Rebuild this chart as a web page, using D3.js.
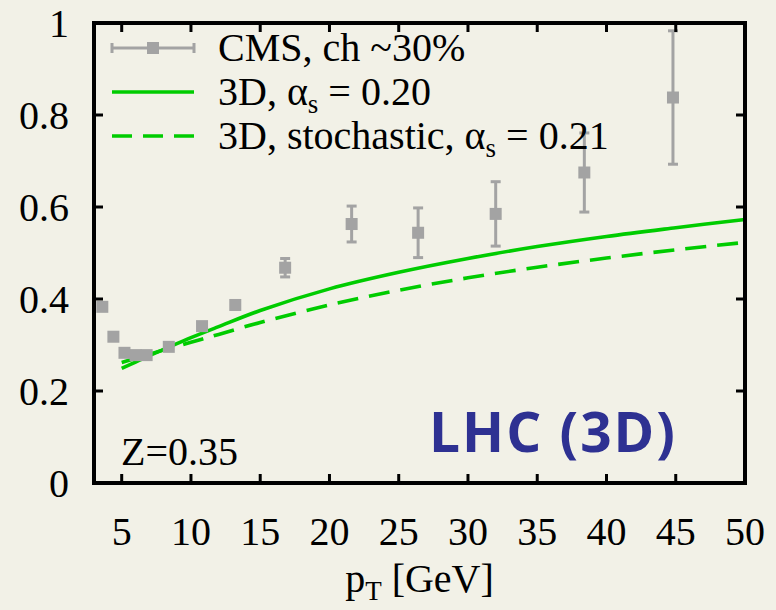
<!DOCTYPE html>
<html>
<head>
<meta charset="utf-8">
<script src="https://cdn.jsdelivr.net/npm/d3@7"></script>
<style>
  html, body { margin: 0; padding: 0; background: #f2f1e7; }
  svg { display: block; }
</style>
</head>
<body>
<svg id="chart" width="776" height="610"></svg>
<script>
// CMS charged-hadron RAA, 30% centrality
const cmsPt   = [3.6, 4.4, 5.2, 6.0, 6.8, 8.4, 10.8, 13.2, 16.8, 21.6, 26.4, 32.0, 38.4, 44.8];
const cmsRaa  = [0.383, 0.318, 0.283, 0.278, 0.278, 0.296, 0.341, 0.387, 0.468, 0.563, 0.544, 0.585, 0.675, 0.838];
const cmsErr  = [0.005, 0.005, 0.005, 0.005, 0.005, 0.005, 0.006, 0.010, 0.020, 0.039, 0.054, 0.070, 0.086, 0.145];

// 3D model curves
const modelPt         = [5, 6, 7, 8, 10, 12, 15, 20, 25, 30, 35, 40, 45, 50];
const modelSolid      = [0.249, 0.263, 0.277, 0.290, 0.316, 0.340, 0.375, 0.422, 0.458, 0.488, 0.514, 0.536, 0.555, 0.573];
const modelStochastic = [0.262, 0.271, 0.280, 0.289, 0.306, 0.323, 0.349, 0.387, 0.419, 0.446, 0.469, 0.489, 0.507, 0.523];

const xTicks = [5, 10, 15, 20, 25, 30, 35, 40, 45, 50];
const yTicks = [0, 0.2, 0.4, 0.6, 0.8, 1];

const margin = { left: 94, right: 31, top: 23, bottom: 127 };
const W = 776, H = 610;
const svg = d3.select("#chart");

const x = d3.scaleLinear().domain([3, 50]).range([margin.left, W - margin.right]);
const y = d3.scaleLinear().domain([0, 1]).range([H - margin.bottom, margin.top]);

const serif = "'Liberation Serif', 'Times New Roman', serif";
const fs = 40;
const green = "#00cc00";
const grey = "#a3a3a3";

// model curves
const line = d3.line().x(d => x(d[0])).y(d => y(d[1])).curve(d3.curveCatmullRom);
svg.append("path")
  .attr("d", line(modelPt.map((p, i) => [p, modelSolid[i]])))
  .attr("fill", "none").attr("stroke", green).attr("stroke-width", 3.6);
svg.append("path")
  .attr("d", line(modelPt.map((p, i) => [p, modelStochastic[i]])))
  .attr("fill", "none").attr("stroke", green).attr("stroke-width", 3.6)
  .attr("stroke-dasharray", "21,11");

// CMS points with error bars
const cms = svg.append("g");
cmsPt.forEach((p, i) => {
  const cx = x(p), lo = y(cmsRaa[i] - cmsErr[i]), hi = y(cmsRaa[i] + cmsErr[i]);
  if (cmsErr[i] > 0.015) {
    cms.append("line").attr("x1", cx).attr("x2", cx).attr("y1", lo).attr("y2", hi)
      .attr("stroke", grey).attr("stroke-width", 3);
    [lo, hi].forEach(v => cms.append("line")
      .attr("x1", cx - 5).attr("x2", cx + 5).attr("y1", v).attr("y2", v)
      .attr("stroke", grey).attr("stroke-width", 3));
  }
  cms.append("rect").attr("x", cx - 6).attr("y", y(cmsRaa[i]) - 6)
    .attr("width", 12).attr("height", 12).attr("fill", grey);
});

// frame with inward ticks on all sides
const frame = svg.append("g").attr("stroke", "#000");
frame.append("rect")
  .attr("x", margin.left).attr("y", margin.top)
  .attr("width", W - margin.left - margin.right)
  .attr("height", H - margin.top - margin.bottom)
  .attr("fill", "none").attr("stroke-width", 4);
xTicks.filter(t => t < 50).forEach(t => {
  frame.append("line").attr("x1", x(t)).attr("x2", x(t))
    .attr("y1", y(0)).attr("y2", y(0) - 9).attr("stroke-width", 3);
  frame.append("line").attr("x1", x(t)).attr("x2", x(t))
    .attr("y1", y(1)).attr("y2", y(1) + 9).attr("stroke-width", 3);
});
yTicks.filter(t => t > 0 && t < 1).forEach(t => {
  frame.append("line").attr("x1", x(3)).attr("x2", x(3) + 9)
    .attr("y1", y(t)).attr("y2", y(t)).attr("stroke-width", 3);
  frame.append("line").attr("x1", x(50)).attr("x2", x(50) - 9)
    .attr("y1", y(t)).attr("y2", y(t)).attr("stroke-width", 3);
});

// tick labels
const fmt = d => (d === 0 || d === 1) ? String(d) : d.toFixed(1);
svg.append("g").selectAll("text").data(yTicks).join("text")
  .attr("x", 69).attr("y", d => y(d) + 14)
  .attr("text-anchor", "end").attr("font-family", serif).attr("font-size", fs)
  .text(fmt);
svg.append("g").selectAll("text").data(xTicks).join("text")
  .attr("x", d => x(d)).attr("y", 545)
  .attr("text-anchor", "middle").attr("font-family", serif).attr("font-size", fs)
  .text(d => d);

// axis title
const xt = svg.append("text").attr("x", x(3) + (x(50) - x(3)) / 2).attr("y", 592)
  .attr("text-anchor", "middle").attr("font-family", serif).attr("font-size", fs);
xt.append("tspan").text("p");
xt.append("tspan").attr("font-size", 27).attr("dy", 8).text("T");
xt.append("tspan").attr("dy", -8).text(" [GeV]");

// legend
const lg = svg.append("g");
const lx1 = 112, lx2 = 194, tx = 218;
const rows = [48, 92, 136];
lg.append("line").attr("x1", lx1).attr("x2", lx2).attr("y1", rows[0]).attr("y2", rows[0])
  .attr("stroke", grey).attr("stroke-width", 3);
[lx1, lx2].forEach(v => lg.append("line").attr("x1", v).attr("x2", v)
  .attr("y1", rows[0] - 5).attr("y2", rows[0] + 5).attr("stroke", grey).attr("stroke-width", 3));
lg.append("rect").attr("x", (lx1 + lx2) / 2 - 6).attr("y", rows[0] - 6)
  .attr("width", 12).attr("height", 12).attr("fill", grey);
lg.append("line").attr("x1", lx1).attr("x2", lx2).attr("y1", rows[1]).attr("y2", rows[1])
  .attr("stroke", green).attr("stroke-width", 3.6);
lg.append("line").attr("x1", lx1).attr("x2", lx2).attr("y1", rows[2]).attr("y2", rows[2])
  .attr("stroke", green).attr("stroke-width", 3.6).attr("stroke-dasharray", "20,11");

const legText = (row, pre, val) => {
  const t = lg.append("text").attr("x", tx).attr("y", row + 13)
    .attr("font-family", serif).attr("font-size", fs);
  if (val === null) { t.text(pre); return; }
  t.append("tspan").text(pre + "α");
  t.append("tspan").attr("font-size", 27).attr("dy", 8).text("s");
  t.append("tspan").attr("dy", -8).text(" = " + val);
};
legText(rows[0], "CMS, ch ~30%", null);
legText(rows[1], "3D, ", "0.20");
legText(rows[2], "3D, stochastic, ", "0.21");

// annotations
svg.append("text").attr("x", 121).attr("y", 465)
  .attr("font-family", serif).attr("font-size", fs).text("Z=0.35");
svg.append("text").attr("x", 429).attr("y", 452)
  .attr("font-family", "'Open Sans', 'Noto Sans', sans-serif").attr("font-weight", "bold")
  .attr("font-size", 55).attr("letter-spacing", 2).attr("fill", "#2e3192")
  .text("LHC (3D)");
</script>
</body>
</html>
